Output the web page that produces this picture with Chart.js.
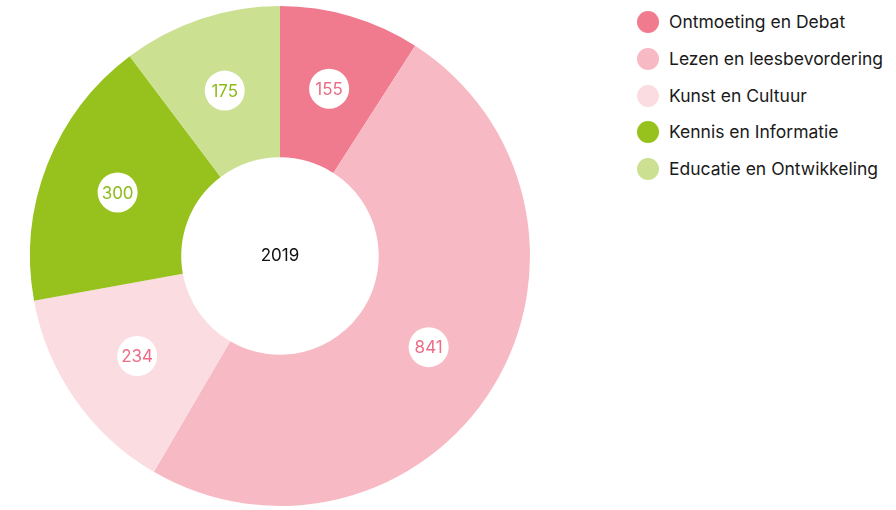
<!DOCTYPE html>
<html>
<head>
<meta charset="utf-8">
<script src="https://cdn.jsdelivr.net/npm/chart.js@4/dist/chart.umd.min.js"></script>
<style>
  html, body { margin: 0; padding: 0; background: #fff; }
  #wrap { position: relative; width: 896px; height: 510px; }
  #chartBox { position: absolute; left: 0; top: 0; width: 560px; height: 510px; }
  #legend { position: absolute; left: 637px; top: 0; font-family: Inter, sans-serif; font-size: 17.5px; color: #1a1a1a; }
  #legend .item { position: absolute; left: 0; white-space: nowrap; height: 22px; line-height: 22px; }
  #legend .dot { display: inline-block; width: 22px; height: 22px; border-radius: 50%; vertical-align: top; margin-right: 10px; }
</style>
</head>
<body>
<div id="wrap">
  <div id="chartBox"><canvas id="donut" width="560" height="510"></canvas></div>
  <div id="legend"></div>
</div>
<script>
// start 2019 doughnut
const categories = ['Ontmoeting en Debat', 'Lezen en leesbevordering', 'Kunst en Cultuur', 'Kennis en Informatie', 'Educatie en Ontwikkeling'];
const values = [155, 841, 234, 300, 175];
const sliceColors = ['#f07b8e', '#f7bac4', '#fbdce1', '#97c21e', '#cce091'];
const labelColors = ['#ec6d85', '#ec6d85', '#ec6d85', '#8dbb1a', '#8dbb1a'];
const centerText = '2019';

// white bubbles with the value on each slice
const bubbleLabels = {
	id: 'bubbleLabels',
	afterDatasetsDraw(chart) {
		const ctx = chart.ctx;
		const meta = chart.getDatasetMeta(0);
		ctx.save();
		meta.data.forEach(function(arc, i) {
			const p = arc.getCenterPoint();
			ctx.beginPath();
			ctx.arc(p.x, p.y, 20, 0, Math.PI * 2);
			ctx.fillStyle = '#ffffff';
			ctx.fill();
			ctx.fillStyle = labelColors[i];
			ctx.font = '17px Inter, sans-serif';
			ctx.textAlign = 'center';
			ctx.textBaseline = 'middle';
			ctx.fillText(String(values[i]), p.x, p.y + 1);
		});
		// year in the hole
		const a = meta.data[0];
		ctx.fillStyle = '#111111';
		ctx.font = '17px Inter, sans-serif';
		ctx.fillText(centerText, a.x, a.y);
		ctx.restore();
	}
};

const chart = new Chart(document.getElementById('donut').getContext('2d'), {
	type: 'doughnut',
	data: {
		labels: categories,
		datasets: [{
			data: values,
			backgroundColor: sliceColors,
			borderWidth: 0
		}]
	},
	options: {
		responsive: false,
		animation: false,
		cutout: '39.5%',
		layout: { padding: { top: 6, bottom: 4, left: 30, right: 30 } },
		plugins: {
			legend: { display: false },
			tooltip: { enabled: false }
		}
	},
	plugins: [bubbleLabels]
});

// legend
const legendTops = [11, 48, 85, 121, 158];
const legendEl = document.getElementById('legend');
categories.forEach(function(name, i) {
	const item = document.createElement('div');
	item.className = 'item';
	item.style.top = legendTops[i] + 'px';
	item.innerHTML = '<span class="dot" style="background:' + sliceColors[i] + '"></span>' + name;
	legendEl.appendChild(item);
});
// end 2019 doughnut
</script>
</body>
</html>
